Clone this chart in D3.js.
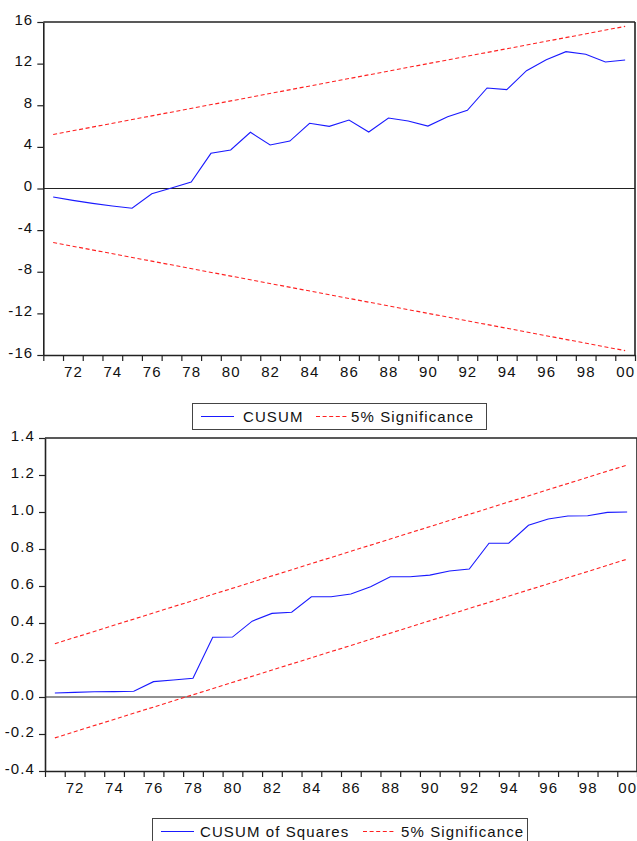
<!DOCTYPE html>
<html>
<head>
<meta charset="utf-8">
<script src="https://cdn.jsdelivr.net/npm/d3@7"></script>
<style>
  html, body { margin: 0; padding: 0; background: #fff; }
  svg { display: block; }
  text { font-family: "Liberation Sans", Arial, sans-serif; font-size: 15px; fill: #111; letter-spacing: 1.1px; }
</style>
</head>
<body>
<svg id="chart" width="637" height="841"></svg>
<script>
// ---------- data ----------
const years = [1971,1972,1973,1974,1975,1976,1977,1978,1979,1980,
               1981,1982,1983,1984,1985,1986,1987,1988,1989,1990,
               1991,1992,1993,1994,1995,1996,1997,1998,1999,2000];
const cusum = [-0.82,-1.14,-1.43,-1.68,-1.9,-0.5,0.05,0.62,3.38,3.7,
               5.4,4.18,4.56,6.27,5.97,6.58,5.43,6.77,6.49,6.0,
               6.9,7.51,9.66,9.5,11.32,12.38,13.15,12.9,12.16,12.35];
const cusumSq = [0.022,0.025,0.028,0.029,0.031,0.083,0.092,0.101,0.323,0.324,
                 0.41,0.452,0.458,0.542,0.542,0.557,0.596,0.65,0.65,0.659,
                 0.681,0.692,0.831,0.831,0.928,0.962,0.978,0.98,0.998,1.0];
// significance bounds: values at first and last year
const boundYears = [1971, 2000];
const cusumUpper = [5.19, 15.58];
const cusumLower = [-5.19, -15.58];
const sqUpper = [0.288, 1.254];
const sqLower = [-0.221, 0.745];
const cusumTicks = [16,12,8,4,0,-4,-8,-12,-16];
const sqTicks = [1.4,1.2,1.0,0.8,0.6,0.4,0.2,0.0,-0.2,-0.4];
const yearLabels = ["72","74","76","78","80","82","84","86","88","90","92","94","96","98","00"];

const svg = d3.select("#chart");
const BLUE = "#1a1aff", RED = "#ff2020", AX = "#222";

function panel(opts) {
  const {left, right, top, bottom, yDomain, yTicks, fmt, series, upper, lower, rightBorder} = opts;
  const x = d3.scaleLinear().domain([years[0]-0.5, years[years.length-1]+0.5]).range([left, right]);
  const y = d3.scaleLinear().domain(yDomain).range([bottom, top]);
  const g = svg.append("g");

  // frame top & right
  g.append("line").attr("x1", left).attr("x2", right).attr("y1", top).attr("y2", top)
    .attr("stroke", AX).attr("stroke-width", 1.6);
  if (rightBorder) {
    g.append("line").attr("x1", right).attr("x2", right).attr("y1", top).attr("y2", bottom)
      .attr("stroke", AX).attr("stroke-width", 1.6);
  }

  // zero line
  g.append("line").attr("x1", left).attr("x2", right).attr("y1", y(0)).attr("y2", y(0))
    .attr("stroke", "#222").attr("stroke-width", 1);

  // x axis with boundary ticks
  const boundaries = years.map(d => d - 0.5).concat([years[years.length-1] + 0.5]);
  const xAxis = d3.axisBottom(x).tickValues(boundaries).tickSize(6).tickSizeOuter(0).tickFormat("");
  const xg = g.append("g").attr("transform", `translate(0,${bottom})`).call(xAxis);
  xg.select(".domain").attr("stroke", AX).attr("stroke-width", 1.6);
  xg.selectAll(".tick line").attr("stroke", AX).attr("stroke-width", 1.2);

  // x labels at even years
  const labYears = years.filter(d => d % 2 === 0);
  g.selectAll("text.xl").data(labYears).enter().append("text")
    .attr("class", "xl")
    .attr("x", d => x(d) + 0.5)
    .attr("y", bottom + 22)
    .attr("text-anchor", "middle")
    .text((d, i) => yearLabels[i]);

  // y axis
  const yAxis = d3.axisLeft(y).tickValues(yTicks).tickSize(6).tickSizeOuter(0).tickFormat("");
  const yg = g.append("g").attr("transform", `translate(${left},0)`).call(yAxis);
  yg.select(".domain").attr("stroke", AX).attr("stroke-width", 1.6);
  yg.selectAll(".tick line").attr("stroke", AX).attr("stroke-width", 1.2);
  g.selectAll("text.yl").data(yTicks).enter().append("text")
    .attr("class", "yl")
    .attr("x", left - 10)
    .attr("y", d => y(d) + 2.5)
    .attr("text-anchor", "end")
    .text(d => fmt(d));

  // series
  const line = d3.line().x((d, i) => x(years[i])).y(d => y(d));
  g.append("path").datum(series).attr("d", line)
    .attr("fill", "none").attr("stroke", BLUE).attr("stroke-width", 1.1);

  const bline = d3.line().x((d, i) => x(boundYears[i])).y(d => y(d));
  [upper, lower].forEach(b => {
    g.append("path").datum(b).attr("d", bline)
      .attr("fill", "none").attr("stroke", RED).attr("stroke-width", 1.1)
      .attr("stroke-dasharray", "4,2.6");
  });
}

function legend(opts) {
  const {x0, y0, w, h, label1, lineX1, text1X, dashX, text2X} = opts;
  const g = svg.append("g");
  g.append("rect").attr("x", x0).attr("y", y0).attr("width", w).attr("height", h)
    .attr("fill", "#fff").attr("stroke", "#444").attr("stroke-width", 1);
  const cy = y0 + h / 2;
  g.append("line").attr("x1", lineX1).attr("x2", lineX1 + 33).attr("y1", cy).attr("y2", cy)
    .attr("stroke", BLUE).attr("stroke-width", 1.1);
  g.append("text").attr("x", text1X).attr("y", cy + 5.5).text(label1);
  g.append("line").attr("x1", dashX).attr("x2", dashX + 32).attr("y1", cy).attr("y2", cy)
    .attr("stroke", RED).attr("stroke-width", 1.1).attr("stroke-dasharray", "4,2.6");
  g.append("text").attr("x", text2X).attr("y", cy + 5.5).text("5% Significance");
}

panel({
  left: 43.3, right: 635, top: 22, bottom: 355,
  yDomain: [-16, 16], yTicks: cusumTicks, fmt: d => String(d),
  series: cusum, upper: cusumUpper, lower: cusumLower, rightBorder: true
});
legend({x0: 192.5, y0: 403.5, w: 294, h: 26, label1: "CUSUM",
        lineX1: 201, text1X: 243, dashX: 316, text2X: 351});

panel({
  left: 45, right: 637, top: 438, bottom: 771,
  yDomain: [-0.4, 1.4], yTicks: sqTicks, fmt: d => d.toFixed(1),
  series: cusumSq, upper: sqUpper, lower: sqLower, rightBorder: true
});
legend({x0: 152.5, y0: 818.5, w: 375, h: 26, label1: "CUSUM of Squares",
        lineX1: 161, text1X: 200, dashX: 363, text2X: 401});
</script>
</body>
</html>
